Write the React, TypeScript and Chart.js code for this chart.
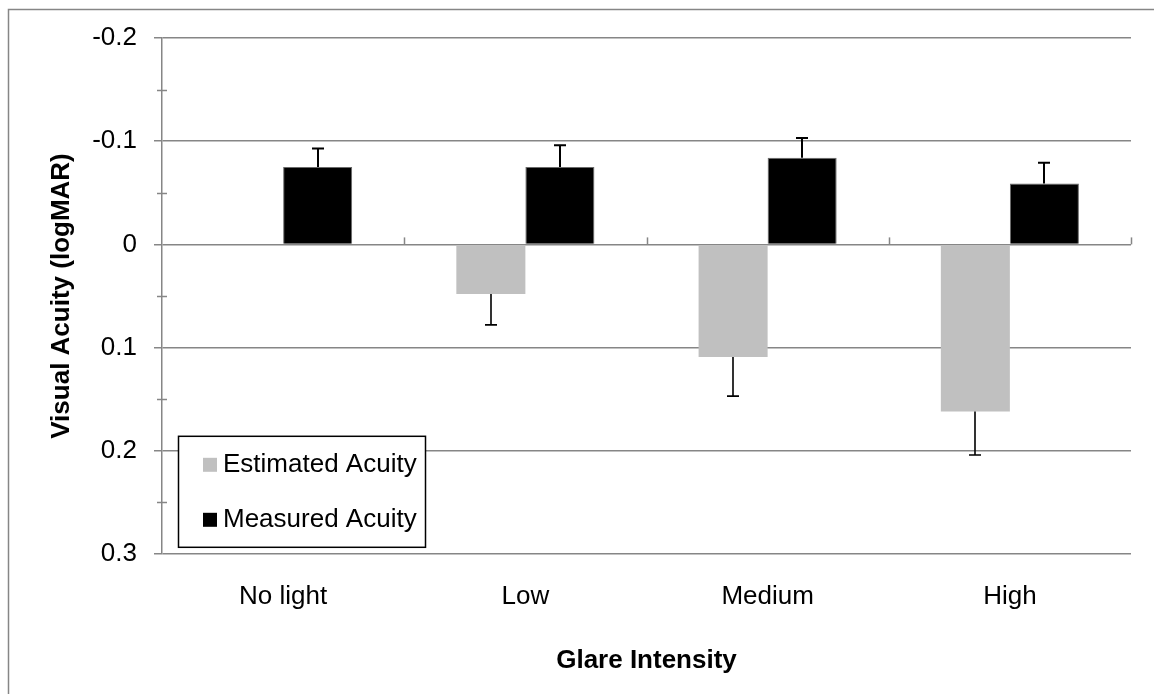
import React, { useEffect, useRef } from "react";
import { Chart, registerables } from "chart.js";

Chart.register(...registerables);

// Glare conditions along the category axis
const categories = ["No light", "Low", "Medium", "High"];

// Mean visual acuity in logMAR (negative = better acuity)
const estimatedAcuity = [0, 0.048, 0.109, 0.162];
const measuredAcuity = [-0.075, -0.075, -0.084, -0.059];

// One-sided error bar lengths (drawn away from zero)
const estimatedError = [0, 0.03, 0.038, 0.042];
const measuredError = [0.018, 0.021, 0.019, 0.02];

// Y axis range and ticks (axis is reversed: better acuity at the top)
const yMin = -0.2;
const yMax = 0.3;
const yStep = 0.1;
const yMinorTicks = [-0.15, -0.05, 0.05, 0.15, 0.25];

const FONT = "'Liberation Sans', Arial, sans-serif";
const AXIS_GRAY = "#868686";

const errorBars = [estimatedError, measuredError];

const decorPlugin = {
  id: "decor",
  beforeDraw(chart: any) {
    const { ctx, width, height } = chart;
    ctx.save();
    ctx.fillStyle = "#ffffff";
    ctx.fillRect(0, 0, width, height);
    // outer frame (left and top edges)
    ctx.strokeStyle = AXIS_GRAY;
    ctx.lineWidth = 1.5;
    ctx.beginPath();
    ctx.moveTo(8.5, height + 2);
    ctx.lineTo(8.5, 9.5);
    ctx.lineTo(width + 2, 9.5);
    ctx.stroke();
    ctx.restore();
  },
  afterDatasetsDraw(chart: any) {
    const { ctx } = chart;
    const y = chart.scales.y;
    ctx.save();
    chart.data.datasets.forEach((ds: any, di: number) => {
      const meta = chart.getDatasetMeta(di);
      const errs = errorBars[di];
      ctx.strokeStyle = "#000000";
      ctx.lineWidth = di === 0 ? 1.6 : 2;
      meta.data.forEach((bar: any, i: number) => {
        const v = ds.data[i];
        const e = errs[i];
        if (v == null || !e) return;
        const sign = v < 0 ? -1 : 1;
        const y0 = y.getPixelForValue(v);
        const y1 = y.getPixelForValue(v + sign * e);
        const x = Math.round(bar.x);
        ctx.beginPath();
        ctx.moveTo(x, y0);
        ctx.lineTo(x, y1);
        ctx.moveTo(x - 6, y1);
        ctx.lineTo(x + 6, y1);
        ctx.stroke();
      });
    });
    ctx.restore();
  },
  afterDraw(chart: any) {
    const { ctx, chartArea } = chart;
    const x = chart.scales.x;
    const y = chart.scales.y;
    ctx.save();
    ctx.strokeStyle = AXIS_GRAY;
    ctx.lineWidth = 1.5;

    // minor ticks on the value axis
    yMinorTicks.forEach((v) => {
      const py = Math.round(y.getPixelForValue(v)) + 0.5;
      ctx.beginPath();
      ctx.moveTo(chartArea.left - 5, py);
      ctx.lineTo(chartArea.left + 5, py);
      ctx.stroke();
    });

    // category boundary ticks sitting on the zero line
    const zeroY = y.getPixelForValue(0);
    const bounds: number[] = [];
    for (let i = 1; i < categories.length; i++) {
      bounds.push((x.getPixelForValue(i - 1) + x.getPixelForValue(i)) / 2);
    }
    bounds.push(chartArea.right);
    bounds.forEach((bx) => {
      const px = Math.round(bx) + 0.5;
      ctx.beginPath();
      ctx.moveTo(px, zeroY);
      ctx.lineTo(px, zeroY - 7);
      ctx.stroke();
    });

    // legend box inside the plot area
    const lx = chartArea.left + 16;
    const ly = y.getPixelForValue(0.2) - 15;
    const lw = 247;
    const lh = 111;
    ctx.fillStyle = "#ffffff";
    ctx.fillRect(lx, ly, lw, lh);
    ctx.strokeStyle = "#000000";
    ctx.lineWidth = 1.5;
    ctx.strokeRect(lx + 0.5, ly + 0.5, lw, lh);

    ctx.font = `26px ${FONT}`;
    ctx.textBaseline = "middle";
    ctx.textAlign = "left";
    chart.data.datasets.forEach((ds: any, di: number) => {
      const cy = ly + 29 + di * 55;
      ctx.fillStyle = ds.backgroundColor;
      ctx.fillRect(lx + 25, cy - 7, 14, 14);
      ctx.fillStyle = "#000000";
      ctx.fillText(ds.label, lx + 45, cy);
    });
    ctx.restore();
  },
};

export default function App() {
  const canvasRef = useRef<HTMLCanvasElement | null>(null);

  useEffect(() => {
    if (!canvasRef.current) return;
    const chart = new Chart(canvasRef.current, {
      type: "bar",
      data: {
        labels: categories,
        datasets: [
          {
            label: "Estimated Acuity",
            data: estimatedAcuity,
            backgroundColor: "#c0c0c0",
            borderColor: "#cfcfcf",
            borderWidth: 0,
          },
          {
            label: "Measured Acuity",
            data: measuredAcuity,
            backgroundColor: "#000000",
            borderColor: "#6a6a6a",
            borderWidth: 1,
          },
        ],
      },
      options: {
        responsive: false,
        animation: false,
        devicePixelRatio: 1,
        layout: { padding: { left: 0, top: 38, right: 23, bottom: 0 } },
        datasets: {
          bar: { categoryPercentage: 0.57, barPercentage: 1 },
        },
        plugins: {
          legend: { display: false },
          tooltip: { enabled: false },
        },
        scales: {
          x: {
            grid: { display: false },
            border: { display: false },
            ticks: {
              color: "#000000",
              font: { family: FONT, size: 26 },
              padding: 19,
              maxRotation: 0,
            },
            title: {
              display: true,
              text: "Glare Intensity",
              color: "#000000",
              font: { family: FONT, size: 26, weight: "bold" },
              padding: { top: 0, bottom: 18 },
            },
            afterFit(scale: any) {
              scale.height = 140;
            },
          },
          y: {
            reverse: true,
            min: yMin,
            max: yMax,
            grid: {
              color: AXIS_GRAY,
              lineWidth: 1.5,
              drawTicks: true,
              tickLength: 8,
            },
            border: { display: true, color: AXIS_GRAY, width: 1.5 },
            ticks: {
              stepSize: yStep,
              color: "#000000",
              font: { family: FONT, size: 26 },
              padding: 17,
              callback: (v: any) => {
                const n = Number(v);
                return Math.abs(n) < 1e-9 ? "0" : n.toFixed(1);
              },
            },
            title: {
              display: true,
              text: "Visual Acuity (logMAR)",
              color: "#000000",
              font: { family: FONT, size: 26, weight: "bold" },
              padding: { top: 46, bottom: 0 },
            },
            afterFit(scale: any) {
              scale.width = 162;
            },
          },
        },
      },
      plugins: [decorPlugin],
    });
    return () => chart.destroy();
  }, []);

  return (
    <div style={{ position: "fixed", left: 0, top: 0, width: 1154, height: 694 }}>
      <canvas ref={canvasRef} width={1154} height={694} />
    </div>
  );
}
